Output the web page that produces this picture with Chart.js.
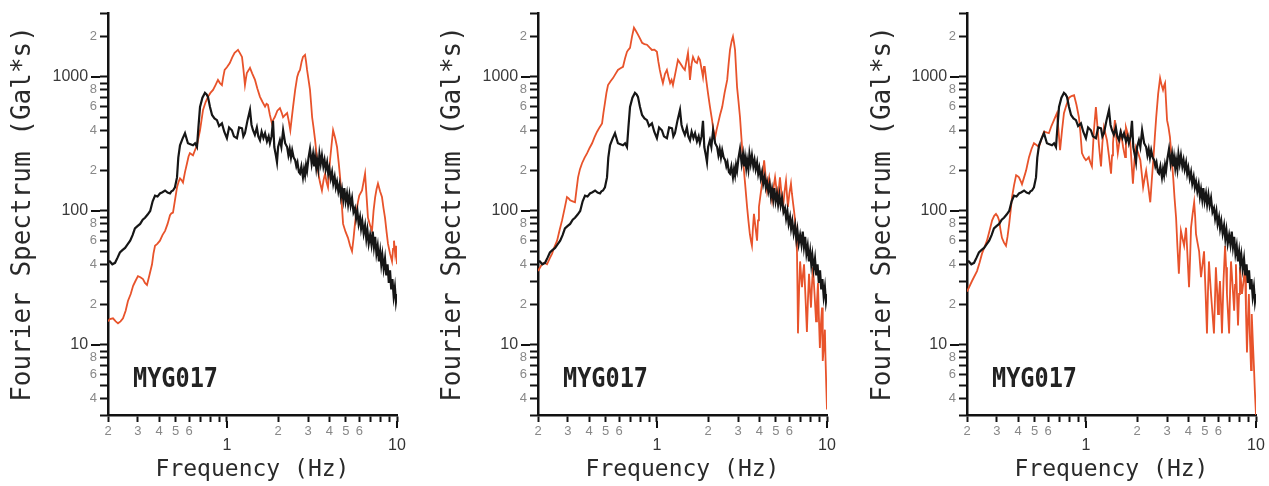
<!DOCTYPE html>
<html><head><meta charset="utf-8">
<script src="https://cdn.jsdelivr.net/npm/chart.js@4.4.1/dist/chart.umd.min.js"></script>
<style>
html,body{margin:0;padding:0;background:#fff;width:1269px;height:486px;overflow:hidden}
.p{position:absolute;top:0;height:486px}
canvas{display:block}
</style></head><body>
<div class="p" style="left:0;width:430px"><canvas id="c1" width="430" height="486"></canvas></div>
<div class="p" style="left:430px;width:430px"><canvas id="c2" width="430" height="486"></canvas></div>
<div class="p" style="left:860px;width:409px"><canvas id="c3" width="409" height="486"></canvas></div>
<script>
// ---- tick values & labels ----
const xTickValues = [0.2,0.3,0.4,0.5,0.6,0.7,0.8,0.9,1,2,3,4,5,6,7,8,9,10];
const xTickLabels = ['2','3','4','5','6','','','','1','2','3','4','5','6','','','','10'];
const xDecades = [1,10];
const yTickValues = [3,4,5,6,7,8,9,10,20,30,40,50,60,70,80,90,100,200,300,400,500,600,700,800,900,1000,2000,3000];
const yTickLabels = ['','4','','6','','8','','10','2','','4','','6','','8','','100','2','','4','','6','','8','','1000','2',''];
const yDecades = [10,100,1000];
const stationName = 'MYG017';
const xTitle = 'Frequency (Hz)';
const yTitle = 'Fourier Spectrum (Gal*s)';

// ---- black spectrum (same reference record in all three panels) [Hz, Gal*s] ----
const blackSpectrum = [
[0.200,42],[0.205,42],[0.212,40],[0.220,41],[0.228,45],[0.235,49],[0.243,51],[0.252,53],[0.260,56],[0.270,60],
[0.279,66],[0.288,74],[0.298,77],[0.309,80],[0.320,86],[0.330,89],[0.342,94],[0.354,100],[0.366,118],[0.378,130],
[0.391,128],[0.404,135],[0.418,138],[0.433,142],[0.448,137],[0.463,135],[0.472,140],[0.482,142],[0.495,150],[0.509,178],
[0.518,250],[0.530,309],[0.548,345],[0.567,380],[0.578,350],[0.590,320],[0.610,315],[0.632,309],[0.650,320],[0.667,300],
[0.680,420],[0.695,596],[0.718,700],[0.743,760],[0.760,740],[0.774,710],[0.795,600],[0.818,520],[0.845,490],[0.874,476],
[0.900,430],[0.935,450],[0.965,390],[1.000,349],[1.030,420],[1.070,400],[1.100,360],[1.145,349],[1.180,420],[1.227,414],
[1.250,360],[1.277,380],[1.320,470],[1.367,568],[1.395,440],[1.424,400],[1.460,370],[1.500,420],[1.530,360],[1.565,337],
[1.600,390],[1.640,350],[1.676,380],[1.720,330],[1.760,360],[1.790,320],[1.830,360],[1.866,470],[1.900,300],[1.940,260],
[1.970,231],[2.000,300],[2.050,337],[2.090,300],[2.140,400],[2.200,320],[2.260,300],[2.300,260],[2.340,290],[2.380,250],
[2.420,284],[2.470,250],[2.520,239],[2.560,215],[2.600,230],[2.650,195],[2.690,190],[2.740,215],[2.800,178],[2.840,205],
[2.880,185],[2.920,220],[2.960,200],[3.020,250],[3.080,290],[3.150,225],[3.210,265],[3.260,215],[3.300,250],[3.350,210],
[3.390,240],[3.450,205],[3.500,265],[3.560,225],[3.620,260],[3.690,215],[3.750,240],[3.810,205],[3.880,230],[3.940,190],
[4.000,210],[4.080,175],[4.150,195],[4.220,160],[4.300,180],[4.370,150],[4.440,165],[4.520,140],[4.600,158],[4.680,128],
[4.750,145],[4.830,122],[4.900,148],[4.990,118],[5.080,135],[5.160,112],[5.250,132],[5.340,110],[5.440,125],[5.550,98],
[5.660,105],[5.750,88],[5.850,100],[5.950,80],[6.060,90],[6.150,74],[6.250,84],[6.370,68],[6.490,78],[6.600,62],
[6.700,72],[6.820,57],[6.950,66],[7.080,56],[7.200,70],[7.320,54],[7.440,64],[7.570,48],[7.700,55],[7.830,42],
[7.960,50],[8.080,40],[8.200,47],[8.350,37],[8.500,44],[8.650,33],[8.800,40],[8.950,29],[9.100,36],[9.250,26],
[9.400,31],[9.560,23],[9.720,27],[9.860,21],[10.00,24]
];

// ---- orange spectrum, left panel ----
const orangeSpectrum1 = [
[0.200,15],[0.205,15.6],[0.214,15.8],[0.222,15],[0.229,14.5],[0.237,15],[0.245,15.8],[0.254,18],[0.262,21.3],[0.272,24],
[0.281,27.6],[0.290,30],[0.300,32.6],[0.310,32],[0.321,31],[0.330,29],[0.339,28],[0.350,33],[0.363,40],[0.370,48],
[0.378,55],[0.391,57],[0.404,60],[0.418,66],[0.433,71],[0.448,80],[0.463,93],[0.472,96],[0.482,97],[0.495,120],
[0.509,150],[0.520,165],[0.530,175],[0.541,170],[0.552,163],[0.567,195],[0.583,227],[0.595,255],[0.606,270],[0.619,265],
[0.632,260],[0.650,285],[0.667,309],[0.680,350],[0.695,400],[0.710,480],[0.724,568],[0.750,650],[0.774,710],[0.800,760],
[0.829,800],[0.857,870],[0.886,950],[0.910,900],[0.935,870],[0.952,1000],[0.970,1128],[1.000,1180],[1.040,1270],[1.075,1400],
[1.110,1513],[1.140,1560],[1.162,1593],[1.195,1500],[1.227,1410],[1.250,1150],[1.277,870],[1.295,980],[1.310,1070],[1.340,1120],
[1.367,1170],[1.410,1060],[1.463,950],[1.510,820],[1.565,710],[1.620,650],[1.676,600],[1.710,630],[1.743,620],[1.790,520],
[1.840,450],[1.875,480],[1.910,500],[1.980,560],[2.050,585],[2.100,540],[2.140,500],[2.200,520],[2.260,537],[2.310,470],
[2.360,400],[2.400,480],[2.450,600],[2.520,800],[2.590,1000],[2.640,1080],[2.690,1128],[2.750,1300],[2.800,1410],[2.880,1460],
[2.920,1300],[2.960,1128],[3.020,950],[3.080,800],[3.130,620],[3.170,500],[3.230,420],[3.300,337],[3.370,260],[3.430,200],
[3.520,165],[3.620,142],[3.700,170],[3.780,190],[3.850,165],[3.930,150],[4.040,240],[4.150,337],[4.210,400],[4.330,350],
[4.440,300],[4.540,230],[4.630,178],[4.720,120],[4.820,80],[4.980,70],[5.150,63],[5.300,55],[5.440,50],[5.550,62],
[5.660,80],[5.780,100],[5.890,116],[6.000,130],[6.230,142],[6.360,165],[6.490,190],[6.620,130],[6.750,89],[6.950,78],
[7.130,71],[7.280,100],[7.440,127],[7.580,145],[7.730,160],[7.950,140],[8.160,127],[8.330,105],[8.500,89],[8.680,70],
[8.850,57],[9.100,48],[9.350,42],[9.480,52],[9.600,60],[9.750,48],[9.870,55],[10.00,40]
];

// ---- orange spectrum, middle panel ----
const orangeSpectrum2 = [
[0.200,35.6],[0.211,40],[0.218,41],[0.226,40],[0.234,44],[0.242,48],[0.250,54],[0.259,60],[0.268,72],[0.277,85],
[0.287,105],[0.296,127],[0.303,124],[0.309,120],[0.320,118],[0.330,116],[0.337,145],[0.344,178],[0.353,205],[0.363,227],
[0.376,250],[0.389,270],[0.402,295],[0.416,320],[0.430,355],[0.445,390],[0.460,420],[0.476,450],[0.485,540],[0.495,640],
[0.505,760],[0.516,870],[0.534,930],[0.552,980],[0.570,1050],[0.590,1128],[0.611,1160],[0.632,1190],[0.650,1380],[0.667,1540],
[0.681,1600],[0.695,1650],[0.714,2000],[0.733,2330],[0.753,2200],[0.774,2070],[0.796,1930],[0.818,1800],[0.845,1760],[0.874,1740],
[0.904,1660],[0.935,1590],[0.967,1600],[1.000,1540],[1.020,1300],[1.040,1128],[1.062,1000],[1.085,900],[1.115,1050],[1.145,1128],
[1.170,1000],[1.196,900],[1.220,950],[1.243,870],[1.290,1100],[1.330,1340],[1.380,1250],[1.424,1170],[1.460,1128],[1.490,1300],
[1.523,1510],[1.545,1200],[1.565,950],[1.600,1250],[1.630,1410],[1.675,1300],[1.720,1270],[1.755,1400],[1.790,1340],[1.830,1150],
[1.866,1000],[1.890,1190],[1.910,1190],[1.950,950],[1.996,760],[2.050,600],[2.110,476],[2.150,400],[2.200,355],[2.240,400],
[2.290,450],[2.350,520],[2.420,596],[2.500,760],[2.590,950],[2.640,1250],[2.690,1590],[2.750,1850],[2.800,2000],[2.840,1800],
[2.880,1590],[2.920,1150],[2.960,840],[3.020,650],[3.080,500],[3.140,350],[3.210,239],[3.300,160],[3.390,107],[3.450,85],
[3.520,67],[3.570,60],[3.620,55],[3.670,75],[3.720,95],[3.800,75],[3.880,60],[3.930,85],[3.980,107],[4.060,130],
[4.150,160],[4.210,200],[4.270,239],[4.350,185],[4.440,142],[4.500,160],[4.570,178],[4.660,145],[4.750,120],[4.850,150],
[4.950,178],[5.050,145],[5.150,120],[5.220,150],[5.290,178],[5.400,135],[5.520,107],[5.630,140],[5.740,168],[5.810,135],
[5.890,107],[6.010,135],[6.140,160],[6.220,135],[6.310,116],[6.400,100],[6.490,85],[6.580,65],[6.660,50],[6.710,25],
[6.750,12.2],[6.850,25],[6.950,42],[7.040,33],[7.130,27],[7.230,34],[7.330,40],[7.480,22],[7.620,12.5],[7.730,22],
[7.840,34],[7.950,25],[8.050,19],[8.160,28],[8.270,38],[8.450,24],[8.620,15],[8.730,21],[8.850,29],[8.960,16],
[9.080,9.5],[9.200,14],[9.350,19],[9.410,11],[9.470,7.6],[9.600,10],[9.720,13],[9.800,8],[9.900,5],[10.00,3.3]
];

// ---- orange spectrum, right panel ----
const orangeSpectrum3 = [
[0.200,25],[0.214,30],[0.229,35.6],[0.237,41],[0.245,48],[0.254,54],[0.262,60],[0.272,72],[0.281,85],[0.289,92],
[0.296,95],[0.303,91],[0.309,85],[0.315,72],[0.321,63],[0.330,58],[0.339,55],[0.346,64],[0.354,80],[0.361,100],
[0.368,127],[0.378,155],[0.389,185],[0.397,182],[0.404,178],[0.413,168],[0.421,158],[0.433,178],[0.445,200],[0.454,225],
[0.463,252],[0.479,290],[0.495,320],[0.512,310],[0.530,300],[0.548,345],[0.567,390],[0.586,385],[0.606,380],[0.627,430],
[0.649,476],[0.662,505],[0.676,537],[0.690,400],[0.705,284],[0.724,400],[0.743,537],[0.769,620],[0.796,700],[0.823,720],
[0.852,730],[0.880,620],[0.910,500],[0.929,380],[0.948,270],[0.975,250],[1.000,239],[1.020,245],[1.040,252],[1.062,230],
[1.085,215],[1.115,400],[1.145,596],[1.170,420],[1.196,300],[1.212,250],[1.227,215],[1.250,320],[1.277,420],[1.300,380],
[1.330,337],[1.370,250],[1.405,190],[1.425,260],[1.443,320],[1.480,476],[1.510,350],[1.540,270],[1.575,330],[1.610,380],
[1.655,300],[1.700,252],[1.720,420],[1.770,370],[1.820,337],[1.855,230],[1.890,160],[1.930,240],[1.970,300],[2.030,270],
[2.090,239],[2.130,190],[2.170,150],[2.215,175],[2.260,200],[2.330,150],[2.390,116],[2.440,170],[2.490,239],[2.540,350],
[2.590,500],[2.660,750],[2.730,980],[2.780,880],[2.840,800],[2.880,860],[2.920,900],[2.960,650],[3.000,476],[3.060,420],
[3.120,355],[3.190,250],[3.260,178],[3.320,125],[3.390,89],[3.450,55],[3.520,34],[3.570,50],[3.620,71],[3.700,62],
[3.780,55],[3.830,65],[3.880,75],[3.960,45],[4.040,27],[4.100,45],[4.150,75],[4.240,95],[4.330,116],[4.390,90],
[4.440,67],[4.530,58],[4.630,50],[4.690,40],[4.750,32],[4.850,40],[4.950,50],[5.050,25],[5.150,12.2],[5.220,25],
[5.290,42],[5.360,32],[5.440,24],[5.550,17],[5.660,12.2],[5.740,22],[5.810,38],[5.900,26],[5.980,17],[6.060,23],
[6.140,30],[6.230,20],[6.310,12.2],[6.440,30],[6.580,55],[6.670,38],[6.750,24],[6.850,17],[6.950,12.2],[7.040,25],
[7.130,42],[7.280,28],[7.440,18],[7.530,28],[7.620,40],[7.730,24],[7.840,14],[7.950,24],[8.050,38],[8.160,30],
[8.270,24],[8.450,30],[8.620,38],[8.730,18],[8.850,8.8],[8.960,15],[9.080,24],[9.200,12],[9.350,6.5],[9.410,10],
[9.470,17],[9.600,10],[9.720,7],[9.850,4.5],[10.00,3]
];

const AXIS = '#111';
const BLACK = '#161616';
const ORANGE = '#e8532b';

const decorPlugin = {
  id: 'decor',
  afterDraw(chart) {
    const {ctx, chartArea, scales} = chart;
    ctx.save();
    ctx.strokeStyle = AXIS; ctx.lineWidth = 2;
    yDecades.forEach(v => {
      const py = Math.round(scales.y.getPixelForValue(v));
      ctx.beginPath(); ctx.moveTo(chartArea.left - 8, py); ctx.lineTo(chartArea.left - 17, py); ctx.stroke();
    });
    xDecades.forEach(v => {
      const px = Math.round(scales.x.getPixelForValue(v));
      ctx.beginPath(); ctx.moveTo(px, chartArea.bottom + 6); ctx.lineTo(px, chartArea.bottom + 13); ctx.stroke();
    });
    ctx.font = 'bold 27px "DejaVu Sans Mono"';
    ctx.fillStyle = '#222'; ctx.textAlign = 'left'; ctx.textBaseline = 'alphabetic';
    ctx.fillText(stationName, chartArea.left + 25, chartArea.bottom - 28, 85);
    ctx.restore();
  }
};

function toXY(arr) { return arr.map(p => ({x: p[0], y: p[1]})); }

function makeChart(id, orange, axisWidth, rightPad) {
  new Chart(document.getElementById(id), {
    type: 'line',
    data: { datasets: [
      { data: toXY(blackSpectrum), borderColor: BLACK, borderWidth: 2.2, pointRadius: 0, tension: 0, fill: false },
      { data: toXY(orange), borderColor: ORANGE, borderWidth: 1.8, pointRadius: 0, tension: 0, fill: false }
    ]},
    options: {
      responsive: false, animation: false, events: [],
      layout: { padding: { top: 13, right: rightPad, bottom: 0, left: 0 } },
      plugins: { legend: { display: false }, tooltip: { enabled: false } },
      scales: {
        x: {
          type: 'logarithmic', min: 0.2, max: 10,
          afterBuildTicks: s => { s.ticks = xTickValues.map(v => ({ value: v })); },
          afterFit: s => { s.height = 71; },
          grid: { drawOnChartArea: false, tickLength: 7, tickWidth: 2, tickColor: AXIS },
          border: { color: AXIS, width: 2.5 },
          ticks: {
            autoSkip: false, maxRotation: 0, minRotation: 0, padding: 2,
            callback: (v, i) => xDecades.includes(xTickValues[i]) ? ['', xTickLabels[i]] : xTickLabels[i],
            color: ctx => xDecades.includes(ctx.tick.value) ? '#333' : '#888',
            font: ctx => xDecades.includes(ctx.tick.value)
              ? { family: '"Liberation Sans"', size: 16, lineHeight: 0.9 }
              : { family: '"Liberation Sans"', size: 13, lineHeight: 1.2 }
          },
          title: { display: true, text: xTitle, color: '#2a2a2a',
                   font: { family: '"DejaVu Sans Mono"', size: 23 }, padding: { top: 0, bottom: 2 } }
        },
        y: {
          type: 'logarithmic', min: 3, max: 3000,
          afterBuildTicks: s => { s.ticks = yTickValues.map(v => ({ value: v })); },
          afterFit: s => { s.width = axisWidth; },
          grid: { drawOnChartArea: false, tickLength: 8, tickWidth: 2, tickColor: AXIS },
          border: { color: AXIS, width: 2.5 },
          ticks: {
            autoSkip: false, padding: 3,
            callback: (v, i) => yDecades.includes(yTickValues[i]) ? yTickLabels[i] + '  ' : yTickLabels[i],
            color: ctx => yDecades.includes(ctx.tick.value) ? '#3a3a3a' : '#888',
            font: ctx => yDecades.includes(ctx.tick.value)
              ? { family: '"Liberation Sans"', size: 16 }
              : { family: '"Liberation Sans"', size: 13 }
          },
          title: { display: true, text: yTitle, color: '#2a2a2a',
                   font: { family: '"DejaVu Sans Mono"', size: 26 }, padding: { top: 8, bottom: 0 } }
        }
      }
    },
    plugins: [decorPlugin]
  });
}

makeChart('c1', orangeSpectrum1, 108, 33);
makeChart('c2', orangeSpectrum2, 108, 33);
makeChart('c3', orangeSpectrum3, 107, 13);
</script>
</body></html>
